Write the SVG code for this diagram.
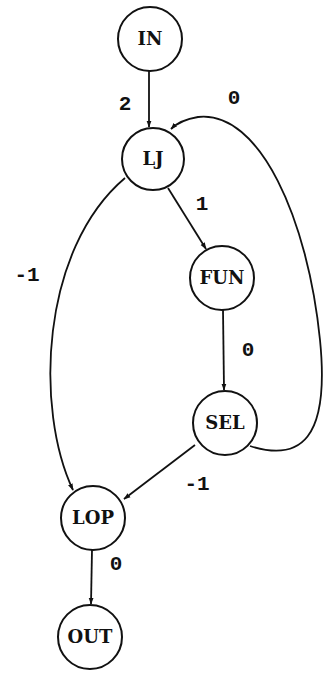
<svg xmlns="http://www.w3.org/2000/svg" width="324" height="674" viewBox="0 0 324 674">
  <defs>
    <marker id="arrow" viewBox="0 0 10 10" refX="9" refY="5" markerWidth="7" markerHeight="10" markerUnits="userSpaceOnUse" orient="auto">
      <path d="M0,1.5 L10,5 L0,8.5 Z" fill="#111"/>
    </marker>
    <style>
      .node circle { fill: #fff; stroke: #111; stroke-width: 2; }
      .node text { font-family: "DejaVu Serif", "Liberation Serif", serif; font-size: 18px; font-weight: 600; fill: #111; text-anchor: middle; }
      .edge { fill: none; stroke: #111; stroke-width: 1.8; marker-end: url(#arrow); }
      .lbl { font-family: "Liberation Mono", "DejaVu Sans Mono", monospace; font-size: 21px; font-weight: bold; fill: #111; text-anchor: middle; }
    </style>
  </defs>

  <g id="connectors">
    <path class="edge" d="M149,70 L149,127"/>
    <path class="edge" d="M168,188 L206,249"/>
    <path class="edge" d="M125,178 C40,250 35,410 73,490"/>
    <path class="edge" d="M223,310 L224,390"/>
    <path class="edge" d="M195,445 L124,499"/>
    <path class="edge" d="M250,446 C300,462 330,440 320,340 C308,220 260,110 198,117 C186,119 176,124 171,129"/>
    <path class="edge" d="M92,550 L91,604"/>
  </g>

  <g id="labels">
    <text class="lbl" x="125" y="110">2</text>
    <text class="lbl" x="234" y="104">0</text>
    <text class="lbl" x="202" y="210">1</text>
    <text class="lbl" x="27" y="281">-1</text>
    <text class="lbl" x="248" y="356">0</text>
    <text class="lbl" x="197" y="490">-1</text>
    <text class="lbl" x="116" y="570">0</text>
  </g>

  <g id="IN" class="node">
    <circle cx="150" cy="39" r="32"/>
    <text x="150" y="45">IN</text>
  </g>
  <g id="LJ" class="node">
    <circle cx="153" cy="159" r="31"/>
    <text x="153" y="165">LJ</text>
  </g>
  <g id="FUN" class="node">
    <circle cx="222" cy="278" r="32"/>
    <text x="222" y="284">FUN</text>
  </g>
  <g id="SEL" class="node">
    <circle cx="225" cy="423" r="32"/>
    <text x="225" y="429">SEL</text>
  </g>
  <g id="LOP" class="node">
    <circle cx="93" cy="518" r="32"/>
    <text x="93" y="524">LOP</text>
  </g>
  <g id="OUT" class="node">
    <circle cx="90" cy="637" r="32"/>
    <text x="90" y="643">OUT</text>
  </g>
</svg>
